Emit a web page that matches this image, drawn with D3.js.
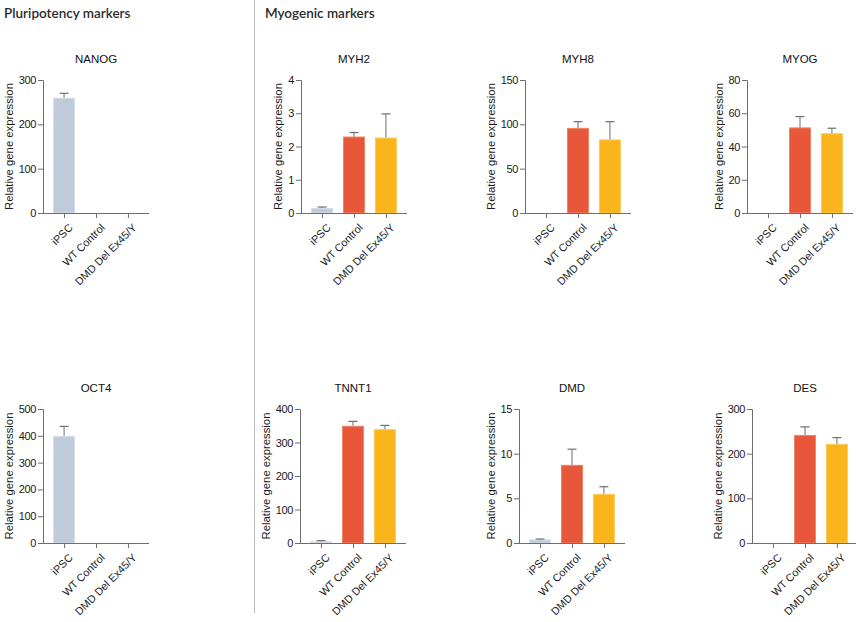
<!DOCTYPE html>
<html><head><meta charset="utf-8">
<script src="https://cdn.jsdelivr.net/npm/d3@7"></script>
<style>body{margin:0;background:#fff}svg{display:block}</style>
</head><body>
<script>
const categories = ["iPSC", "WT Control", "DMD Del Ex45/Y"];
const genes = ["NANOG", "MYH2", "MYH8", "MYOG", "OCT4", "TNNT1", "DMD", "DES"];
const means = {
  NANOG: [260, 0, 0],
  MYH2: [0.15, 2.3, 2.27],
  MYH8: [0, 96, 83],
  MYOG: [0, 51.5, 48],
  OCT4: [400, 0, 0],
  TNNT1: [5, 350, 340],
  DMD: [0.4, 8.75, 5.5],
  DES: [0, 242, 222]
};
const errors = {
  NANOG: [10, 0, 0],
  MYH2: [0.03, 0.12, 0.71],
  MYH8: [0, 7, 20],
  MYOG: [0, 6.5, 3],
  OCT4: [35, 0, 0],
  TNNT1: [2, 13, 11],
  DMD: [0.05, 1.75, 0.8],
  DES: [0, 18, 14]
};
const yTicks = {
  NANOG: [0, 100, 200, 300],
  MYH2: [0, 1, 2, 3, 4],
  MYH8: [0, 50, 100, 150],
  MYOG: [0, 20, 40, 60, 80],
  OCT4: [0, 100, 200, 300, 400, 500],
  TNNT1: [0, 100, 200, 300, 400],
  DMD: [0, 5, 10, 15],
  DES: [0, 100, 200, 300]
};
const sectionTitles = ["Pluripotency markers", "Myogenic markers"];
const yLabel = "Relative gene expression";

// layout
const W = 856, H = 622;
const layout = {
  NANOG: {x0: 43, top: 80, base: 213},
  MYH2: {x0: 301, top: 80, base: 213},
  MYH8: {x0: 525, top: 80, base: 213},
  MYOG: {x0: 747, top: 80, base: 213},
  OCT4: {x0: 43, top: 409, base: 543},
  TNNT1: {x0: 300, top: 409, base: 543},
  DMD: {x0: 519, top: 409, base: 543},
  DES: {x0: 752, top: 409, base: 543}
};
const fills = ["#bfcadb", "#e9573a", "#fbb51c"];
const edges = ["#d6dee9", "#f08566", "#fcca5a"];
const axisColor = "#6e6e6e";
const font = "'Liberation Sans', Arial, sans-serif";

const svg = d3.select("body").append("svg").attr("width", W).attr("height", H);

svg.append("text").attr("x", 4).attr("y", 18).text(sectionTitles[0])
  .attr("font-family", "Lato, 'Open Sans', sans-serif").attr("font-size", 13.5).attr("font-weight", 600).attr("fill", "#2b2b2b");
svg.append("text").attr("x", 265).attr("y", 18).text(sectionTitles[1])
  .attr("font-family", "Lato, 'Open Sans', sans-serif").attr("font-size", 13.5).attr("font-weight", 600).attr("fill", "#2b2b2b");
svg.append("line").attr("x1", 254.5).attr("x2", 254.5).attr("y1", 0).attr("y2", 613)
  .attr("stroke", "#bdbdbd").attr("stroke-width", 1);

genes.forEach(g => {
  const L = layout[g];
  const x1 = L.x0 + 106;
  const ticks = yTicks[g];
  const y = d3.scaleLinear().domain([0, ticks[ticks.length - 1]]).range([L.base, L.top]);
  const x = d3.scalePoint().domain(categories).range([L.x0, x1]).padding(0.66);
  const gp = svg.append("g");
  const bw = 22;

  // title
  gp.append("text").attr("x", (L.x0 + x1) / 2).attr("y", L.top - 17)
    .attr("text-anchor", "middle").attr("font-family", font).attr("font-size", 11.5).attr("fill", "#111").text(g);

  // bars
  categories.forEach((c, i) => {
    const v = means[g][i];
    if (v <= 0) return;
    const cx = x(c);
    gp.append("rect").attr("x", cx - bw / 2 + 0.5).attr("y", y(v) + 0.5)
      .attr("width", bw - 1).attr("height", Math.max(0, y(0) - y(v) - 0.5))
      .attr("fill", fills[i]).attr("stroke", edges[i]).attr("stroke-width", 1);
    const e = errors[g][i];
    if (e > 0) {
      gp.append("line").attr("x1", cx).attr("x2", cx).attr("y1", y(v)).attr("y2", y(v + e))
        .attr("stroke", axisColor).attr("stroke-width", 1);
      gp.append("line").attr("x1", cx - 4.5).attr("x2", cx + 4.5).attr("y1", y(v + e)).attr("y2", y(v + e))
        .attr("stroke", axisColor).attr("stroke-width", 1.2);
    }
  });

  // y axis
  const ya = gp.append("g").attr("transform", `translate(${L.x0},0)`)
    .call(d3.axisLeft(y).tickValues(ticks).tickSize(5).tickPadding(2).tickFormat(d3.format("d")));
  ya.select(".domain").attr("stroke", axisColor).attr("d", `M-5,${L.top + 0.5}H0.5V${L.base}`);
  ya.selectAll(".tick line").attr("stroke", axisColor);
  ya.selectAll("text").attr("font-family", font).attr("font-size", 11).attr("letter-spacing", "-0.4px").attr("fill", "#1a1a1a");

  // x axis
  const xa = gp.append("g").attr("transform", `translate(0,${L.base})`)
    .call(d3.axisBottom(x).tickSize(5).tickFormat(""));
  xa.select(".domain").attr("stroke", axisColor).attr("d", `M${L.x0},0.5H${x1}`);
  xa.selectAll(".tick line").attr("stroke", axisColor);
  categories.forEach(c => {
    gp.append("text").attr("transform", `translate(${x(c) + 4},${L.base + 10}) rotate(-45)`)
      .attr("text-anchor", "end").attr("dy", "0.7em")
      .attr("font-family", font).attr("font-size", 10.8).attr("fill", "#1a1a1a").text(c);
  });

  // y label
  const tw = d3.max(ya.selectAll("text").nodes(), n => n.getComputedTextLength());
  gp.append("text").attr("transform", `translate(${L.x0 - 7 - tw - 6},${(L.top + L.base) / 2}) rotate(-90)`)
    .attr("text-anchor", "middle").attr("font-family", font).attr("font-size", 11.3).attr("fill", "#1a1a1a").text(yLabel);
});
</script>
</body></html>
